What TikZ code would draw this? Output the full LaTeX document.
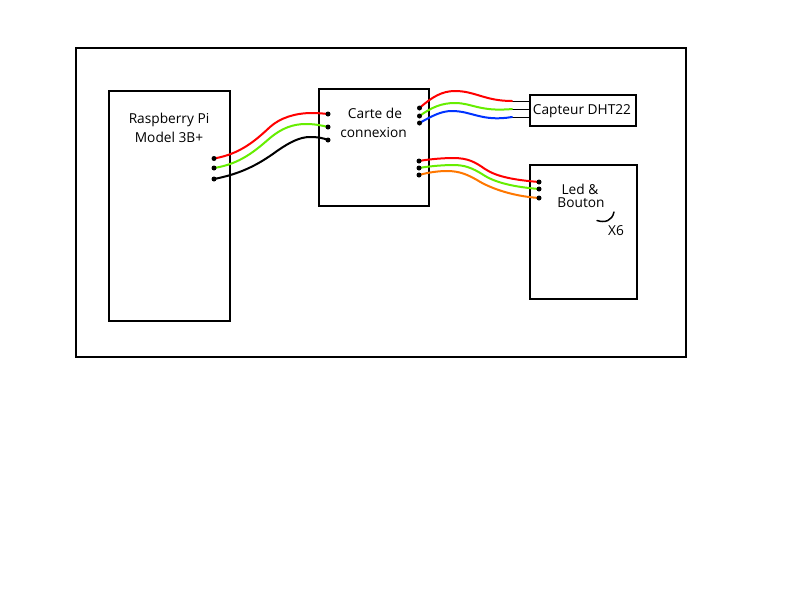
\documentclass[tikz,border=0pt]{standalone}
\usepackage{fontspec}
\setmainfont{Open Sans}
\definecolor{wred}{RGB}{255,0,0}
\definecolor{wgreen}{RGB}{102,238,0}
\definecolor{wblue}{RGB}{0,51,255}
\definecolor{worange}{RGB}{255,119,0}
\pgfdeclarelayer{boxes}
\pgfdeclarelayer{wires}
\pgfsetlayers{boxes,wires,main}
\tikzset{
  box/.style={draw=black,line width=2pt,inner sep=0pt,fill=white},
  lab/.style={inner sep=0pt,font=\fontsize{13.7}{15}\selectfont,text=black},
  pin/.style={circle,fill=black,inner sep=0pt,minimum size=5pt},
  wire/.style={line width=2pt,line cap=round},
  thin wire/.style={draw=black,line width=1pt}
}
\begin{document}
\begin{tikzpicture}[x=1pt,y=-1pt]
\useasboundingbox (0,0) rectangle (800,600);
\begin{pgfonlayer}{boxes}
\fill[white] (0,0) rectangle (800,600);
\node[box,minimum width=610pt,minimum height=309pt,fill=none] (outer) at (381,202.5) {};
\node[box,minimum width=121pt,minimum height=230pt] (pi) at (169.5,206) {};
\node[box,minimum width=110pt,minimum height=117pt] (carte) at (374,147.5) {};
\node[box,minimum width=106pt,minimum height=31pt] (dht) at (583,110.5) {};
\node[box,minimum width=107pt,minimum height=134pt] (led) at (583.5,232) {};
\end{pgfonlayer}

\node[lab] (t1) at (169,120) {Raspberry Pi};
\node[lab] (t2) at (169,137) {Model 3B+};
\node[lab] (t3) at (375,113) {Carte de};
\node[lab] (t4) at (373.5,133) {connexion};
\node[lab] (t5) at (582,111) {Capteur DHT22};
\node[lab] (t6) at (580,189) {Led \&};
\node[lab] (t7) at (581,203) {Bouton};
\node[lab] (t8) at (616,231) {X6};

% pins
\node[pin] (pa) at (214,158.5) {};
\node[pin] (pb) at (214,168) {};
\node[pin] (pc) at (214,179) {};
\node[pin] (ca) at (328,114) {};
\node[pin] (cb) at (328,127) {};
\node[pin] (cc) at (328,140) {};
\node[pin] (da) at (419.5,108) {};
\node[pin] (db) at (419.5,116) {};
\node[pin] (dc) at (419.5,123) {};
\node[pin] (ea) at (419,161) {};
\node[pin] (eb) at (419,168) {};
\node[pin] (ec) at (419,175) {};
\node[pin] (la) at (539,182) {};
\node[pin] (lb) at (539,189) {};
\node[pin] (lc) at (539,198) {};
\coordinate (ja) at (512,101);
\coordinate (jb) at (512,109);
\coordinate (jc) at (512,117);
\coordinate (ka) at (dht.west |- ja);
\coordinate (kb) at (dht.west |- jb);
\coordinate (kc) at (dht.west |- jc);

\begin{pgfonlayer}{wires}
% thin leads
\draw[thin wire] (ja) -- (ka);
\draw[thin wire] (jb) -- (kb);
\draw[thin wire] (jc) -- (kc);

% Pi to carte
\draw[wire,wred] (pa.center) .. controls (240,154) and (255,141) .. (270,127) .. controls (280,118) and (295,113) .. (312,113) .. controls (318,113) and (323,113.5) .. (ca.center);
\draw[wire,wgreen] (pb.center) .. controls (240,164) and (255,151) .. (270,138) .. controls (282,128) and (293,124) .. (306,124) .. controls (315,124) and (322,125.5) .. (cb.center);
\draw[wire,black] (pc.center) .. controls (240,174) and (258,165) .. (277,151) .. controls (290,142) and (300,137) .. (310,137) .. controls (318,137) and (323,138) .. (cc.center);

% carte to DHT
\draw[wire,wred] (da.center) .. controls (432,97) and (442,91) .. (455,91) .. controls (475,91) and (485,101) .. (ja);
\draw[wire,wgreen] (db.center) .. controls (432,107) and (442,103) .. (455,103) .. controls (472,103) and (480,112) .. (jb);
\draw[wire,wblue] (dc.center) .. controls (432,116) and (441,111) .. (452,111) .. controls (472,111) and (482,122) .. (jc);

% carte to Led
\draw[wire,wred] (ea.center) .. controls (430,159) and (445,158) .. (453,158) .. controls (468,158) and (475,162) .. (485,169) .. controls (497,177) and (515,180) .. (la.center);
\draw[wire,wgreen] (eb.center) .. controls (430,166) and (445,165) .. (453,165) .. controls (465,165) and (472,168) .. (482,174) .. controls (495,183) and (515,187) .. (lb.center);
\draw[wire,worange] (ec.center) .. controls (428,172.5) and (438,171) .. (447,171) .. controls (460,171) and (468,175) .. (477,180) .. controls (488,187) and (510,196) .. (lc.center);
\end{pgfonlayer}

% X6 tick
\coordinate (ax) at (597,220.5);
\coordinate (ay) at (614,212);
\draw[line width=1.5pt,line cap=round,black] (ax) .. controls (605,223) and (612,221) .. (ay);
\end{tikzpicture}
\end{document}
